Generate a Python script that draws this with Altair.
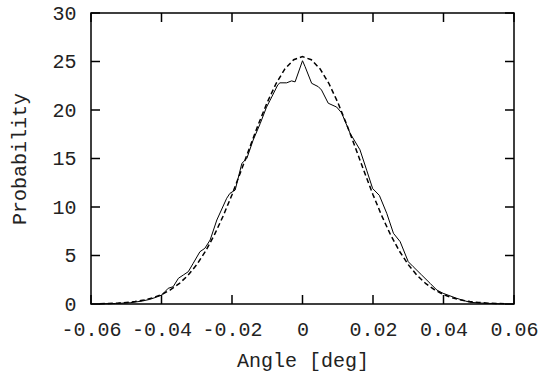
import altair as alt
import pandas as pd

# Measured histogram (solid line)
hist_x = [-0.0575, -0.0530, -0.0489, -0.0455, -0.0433, -0.0415, -0.0399, -0.0381,
          -0.0367, -0.0352, -0.0338, -0.0324, -0.0310, -0.0291, -0.0277, -0.0262,
          -0.0243, -0.0215, -0.0206, -0.0191, -0.0172, -0.0158, -0.0140, -0.0120,
          -0.0102, -0.0092, -0.0070, -0.0064, -0.0045, -0.0031, -0.0021, 0.0000,
          0.0007, 0.0026, 0.0045, 0.0054, 0.0073, 0.0097, 0.0111, 0.0135,
          0.0163, 0.0182, 0.0199, 0.0218, 0.0239, 0.0258, 0.0277, 0.0300,
          0.0314, 0.0338, 0.0362, 0.0381, 0.0399, 0.0437, 0.0474, 0.0503, 0.0560]
hist_y = [0.02, 0.05, 0.13, 0.30, 0.48, 0.70, 0.93, 1.62,
          1.78, 2.65, 2.99, 3.33, 4.20, 5.39, 5.74, 6.60,
          8.66, 10.90, 11.40, 11.75, 14.50, 15.00, 16.90, 18.60,
          20.30, 21.00, 22.60, 22.80, 22.80, 23.00, 22.90, 25.08,
          24.50, 22.75, 22.40, 22.06, 20.70, 20.30, 19.70, 17.60,
          15.90, 13.80, 11.90, 11.20, 9.35, 7.29, 6.43, 4.36,
          3.85, 2.99, 2.13, 1.44, 1.10, 0.59, 0.18, 0.10, 0.02]

# Fitted curve (dashed line)
fit_x = [-0.0575, -0.0550, -0.0525, -0.0500, -0.0475, -0.0450, -0.0425, -0.0400,
         -0.0375, -0.0350, -0.0325, -0.0300, -0.0275, -0.0250, -0.0225, -0.0200,
         -0.0175, -0.0150, -0.0125, -0.0100, -0.0075, -0.0050, -0.0025, 0.0000,
         0.0025, 0.0050, 0.0075, 0.0100, 0.0125, 0.0150, 0.0175, 0.0200,
         0.0225, 0.0250, 0.0275, 0.0300, 0.0325, 0.0350, 0.0375, 0.0400,
         0.0425, 0.0450, 0.0475, 0.0500, 0.0525, 0.0550, 0.0575]
fit_y = [0.03, 0.05, 0.09, 0.16, 0.25, 0.41, 0.64, 0.97,
         1.45, 2.09, 2.95, 4.06, 5.45, 7.12, 9.08, 11.27,
         13.65, 16.11, 18.54, 20.79, 22.73, 24.23, 25.18, 25.50,
         25.18, 24.23, 22.73, 20.79, 18.54, 16.11, 13.65, 11.27,
         9.08, 7.12, 5.45, 4.06, 2.95, 2.09, 1.45, 0.97,
         0.64, 0.41, 0.25, 0.16, 0.09, 0.05, 0.03]

x_ticks = [-0.06, -0.04, -0.02, 0, 0.02, 0.04, 0.06]
y_ticks = [0, 5, 10, 15, 20, 25, 30]

W, H = 423, 291
FONT = "Liberation Mono"
FS = 20
TXT = "#222222"
TICK = 9

hist = pd.DataFrame({"angle": hist_x, "prob": hist_y})
fit = pd.DataFrame({"angle": fit_x, "prob": fit_y})
xt = pd.DataFrame({"angle": x_ticks})
yt = pd.DataFrame({"prob": y_ticks})

xscale = alt.Scale(domain=[-0.06, 0.06], nice=False, zero=False)
yscale = alt.Scale(domain=[0, 30], nice=False, zero=True)

xaxis = alt.Axis(values=x_ticks, labelExpr="'' + datum.value", ticks=False, domain=False,
                 grid=False, labelPadding=31, labelBaseline="alphabetic",
                 labelFontSize=FS, labelFont=FONT, labelColor=TXT,
                 labelFlush=False, labelOverlap=False,
                 title="Angle [deg]", titleFont=FONT, titleFontSize=FS,
                 titleFontWeight="normal", titleColor=TXT, titleY=62,
                 titleBaseline="alphabetic")
yaxis = alt.Axis(values=y_ticks, ticks=False, domain=False, grid=False,
                 labelPadding=15, labelBaseline="middle",
                 labelFontSize=FS, labelFont=FONT, labelColor=TXT,
                 labelFlush=False, labelOverlap=False,
                 title="Probability", titleFont=FONT, titleFontSize=FS,
                 titleFontWeight="normal", titleColor=TXT, titleX=-66, titleY=H / 2,
                 titleBaseline="alphabetic")

X = alt.X("angle:Q", scale=xscale, axis=xaxis)
Y = alt.Y("prob:Q", scale=yscale, axis=yaxis)

solid = alt.Chart(hist).mark_line(color="black", strokeWidth=1).encode(x=X, y=Y)
dashed = alt.Chart(fit).mark_line(color="black", strokeWidth=1.5, strokeDash=[5, 3]).encode(x=X, y=Y)

xb = alt.Chart(xt).mark_rule(color="black", strokeWidth=1.5).encode(
    x=X, y=alt.value(H), y2=alt.value(H - TICK))
xtop = alt.Chart(xt).mark_rule(color="black", strokeWidth=1.5).encode(
    x=X, y=alt.value(0), y2=alt.value(TICK))
yl = alt.Chart(yt).mark_rule(color="black", strokeWidth=1.5).encode(
    y=Y, x=alt.value(0), x2=alt.value(TICK))
yr = alt.Chart(yt).mark_rule(color="black", strokeWidth=1.5).encode(
    y=Y, x=alt.value(W), x2=alt.value(W - TICK))

chart = alt.layer(solid, dashed, xb, xtop, yl, yr).properties(
    width=W, height=H, autosize="none",
    padding={"left": 91, "top": 13, "right": 33, "bottom": 69},
    background="white",
).configure_view(stroke="black", strokeWidth=1.5)

chart.save("out.html", embed_options={"renderer": "svg", "actions": False})
